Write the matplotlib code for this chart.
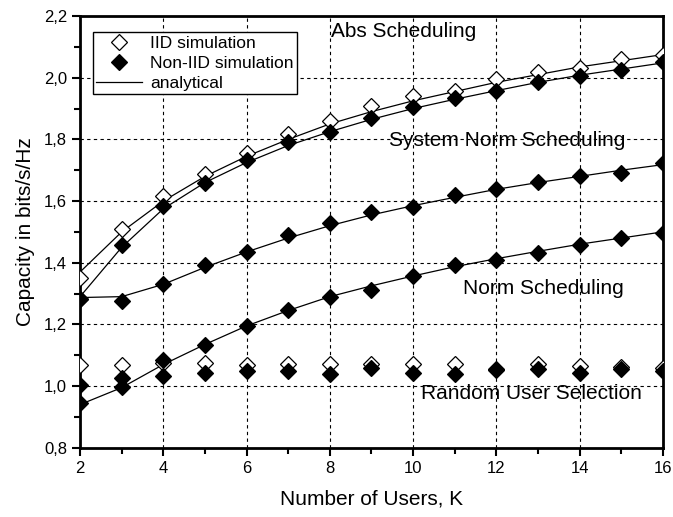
import numpy as np
import matplotlib.pyplot as plt
import matplotlib.ticker as ticker

plt.rcParams["font.family"] = ["Liberation Sans", "DejaVu Sans"]

K = [2, 3, 4, 5, 6, 7, 8, 9, 10, 11, 12, 13, 14, 15, 16]

# Abs scheduling
abs_iid_sim = [1.35, 1.51, 1.616, 1.688, 1.756, 1.816, 1.858, 1.907, 1.94, 1.958, 1.996, 2.018, 2.032, 2.06, 2.075]
abs_noniid_sim = [1.283, 1.459, 1.583, 1.66, 1.733, 1.792, 1.825, 1.869, 1.904, 1.933, 1.958, 1.985, 2.007, 2.024, 2.05]
abs_iid_ana = [1.37, 1.50, 1.60, 1.68, 1.745, 1.80, 1.85, 1.89, 1.925, 1.955, 1.985, 2.01, 2.035, 2.055, 2.075]
abs_noniid_ana = [1.29, 1.45, 1.575, 1.66, 1.725, 1.78, 1.825, 1.865, 1.90, 1.93, 1.958, 1.985, 2.008, 2.028, 2.048]

# System norm scheduling
sysnorm_sim = [1.283, 1.277, 1.331, 1.394, 1.435, 1.49, 1.528, 1.563, 1.582, 1.62, 1.64, 1.661, 1.68, 1.691, 1.724]
sysnorm_ana = [1.287, 1.29, 1.33, 1.385, 1.435, 1.48, 1.52, 1.555, 1.585, 1.612, 1.638, 1.66, 1.68, 1.70, 1.718]

# Norm scheduling
norm_sim = [0.945, 0.996, 1.084, 1.132, 1.195, 1.247, 1.29, 1.312, 1.356, 1.392, 1.41, 1.432, 1.459, 1.481, 1.495]
norm_ana = [0.94, 0.995, 1.07, 1.135, 1.195, 1.245, 1.29, 1.325, 1.357, 1.387, 1.413, 1.437, 1.46, 1.48, 1.50]

# Random user selection
rand_iid_sim = [1.067, 1.068, 1.075, 1.076, 1.068, 1.073, 1.07, 1.07, 1.07, 1.07, 1.056, 1.07, 1.065, 1.061, 1.06]
rand_noniid_sim = [1.005, 1.027, 1.032, 1.041, 1.048, 1.048, 1.038, 1.059, 1.043, 1.038, 1.052, 1.054, 1.041, 1.056, 1.048]

fig = plt.figure(figsize=(6.73, 5.17), dpi=100)
ax = fig.add_axes([0.119, 0.134, 0.866, 0.835])

line_kw = dict(color="black", linewidth=0.9, zorder=2)
for y in [abs_iid_ana, abs_noniid_ana, sysnorm_ana, norm_ana]:
    ax.plot(K, y, **line_kw)

open_kw = dict(linestyle="none", marker="D", markersize=8.5, markerfacecolor="white",
               markeredgecolor="black", markeredgewidth=0.9, zorder=3)
fill_kw = dict(linestyle="none", marker="D", markersize=8.5, markerfacecolor="black",
               markeredgecolor="black", markeredgewidth=0.9, zorder=4)

ax.plot(K, abs_iid_sim, **open_kw)
ax.plot(K, rand_iid_sim, **open_kw)
ax.plot(K, abs_noniid_sim, **fill_kw)
ax.plot(K, sysnorm_sim, **fill_kw)
ax.plot(K, norm_sim, **fill_kw)
ax.plot(K, rand_noniid_sim, **fill_kw)

# legend handles
h1, = ax.plot([], [], label="IID simulation", **open_kw)
h2, = ax.plot([], [], label="Non-IID simulation", **fill_kw)
h3, = ax.plot([], [], label="analytical", **line_kw)
leg = ax.legend(handles=[h1, h2, h3], loc="upper left", bbox_to_anchor=(0.022, 0.962),
                borderaxespad=0, fontsize=12.5, fancybox=False, edgecolor="black",
                framealpha=1, handlelength=2.6, borderpad=0.2, labelspacing=0.27,
                handletextpad=0.5)
leg.get_frame().set_linewidth(1.0)

ax.text(9.76, 2.15, "Abs Scheduling", fontsize=15, ha="center", va="center")
ax.text(9.42, 1.795, "System Norm Scheduling", fontsize=15, ha="left", va="center")
ax.text(11.2, 1.315, "Norm Scheduling", fontsize=15, ha="left", va="center")
ax.text(10.19, 0.975, "Random User Selection", fontsize=15, ha="left", va="center")

ax.set_xlim(2, 16)
ax.set_ylim(0.8, 2.2)
ax.xaxis.set_major_locator(ticker.MultipleLocator(2))
ax.xaxis.set_minor_locator(ticker.MultipleLocator(1))
ax.yaxis.set_major_locator(ticker.MultipleLocator(0.2))
ax.yaxis.set_minor_locator(ticker.MultipleLocator(0.1))
ax.yaxis.set_major_formatter(ticker.FuncFormatter(lambda v, p: f"{v:.1f}".replace(".", ",")))

ax.grid(True, which="major", color="black", linestyle=(0, (3, 3)), linewidth=0.8)
ax.tick_params(which="major", direction="out", length=6, width=1.5, labelsize=12)
ax.tick_params(which="minor", direction="out", length=4, width=1.5)
ax.tick_params(top=False, right=False)
for s in ax.spines.values():
    s.set_linewidth(2)

ax.set_xlabel("Number of Users, K", fontsize=15, labelpad=10)
ax.set_ylabel("Capacity in bits/s/Hz", fontsize=15, labelpad=6)

fig.savefig("out.png", dpi=100)
